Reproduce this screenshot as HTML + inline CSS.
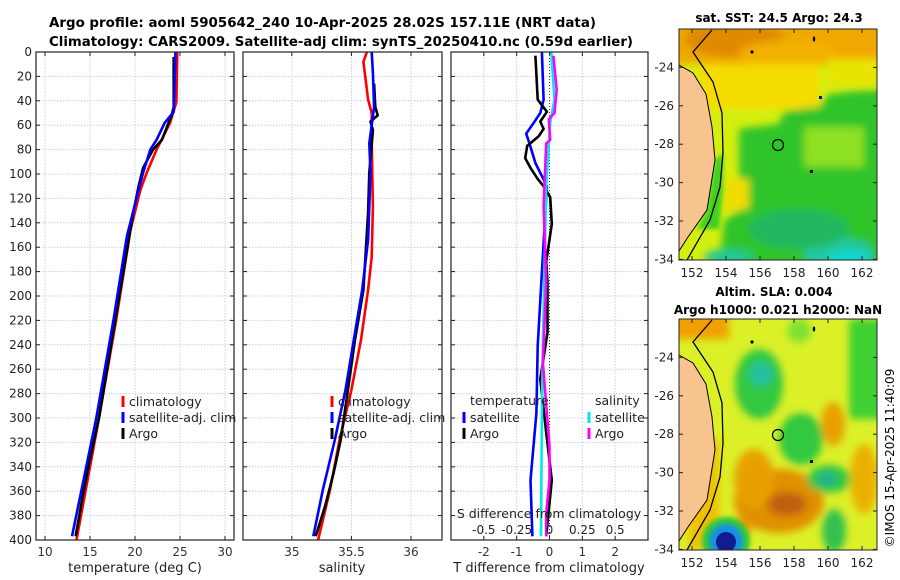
<!DOCTYPE html>
<html><head><meta charset="utf-8">
<style>
html,body{margin:0;padding:0;background:#fff;}
svg{display:block;font-family:"DejaVu Sans","Liberation Sans",sans-serif;}
</style></head>
<body>
<svg id="fig" width="900" height="580" viewBox="0 0 900 580" xmlns="http://www.w3.org/2000/svg">
<defs>
<clipPath id="c1"><rect x="36" y="52" width="198" height="488"/></clipPath>
<clipPath id="c2"><rect x="243" y="52" width="199" height="488"/></clipPath>
<clipPath id="c3"><rect x="451" y="52" width="197" height="488"/></clipPath>
<clipPath id="cm"><rect x="0" y="0" width="198" height="231"/></clipPath>
<filter id="bl" filterUnits="userSpaceOnUse" x="-20" y="-20" width="240" height="270"><feGaussianBlur stdDeviation="4"/></filter>
<filter id="bl2" filterUnits="userSpaceOnUse" x="-20" y="-20" width="240" height="270"><feGaussianBlur stdDeviation="2"/></filter>
</defs>
<text x="49" y="27" font-size="13" font-weight="bold" textLength="547" lengthAdjust="spacingAndGlyphs">Argo profile: aoml 5905642_240 10-Apr-2025 28.02S 157.11E (NRT data)</text>
<text x="49" y="46" font-size="13" font-weight="bold" textLength="584" lengthAdjust="spacingAndGlyphs">Climatology: CARS2009. Satellite-adj clim: synTS_20250410.nc (0.59d earlier)</text>
<g id="panels"></g>

<!-- top map -->
<text x="779" y="22" font-size="12" font-weight="bold" text-anchor="middle">sat. SST: 24.5 Argo: 24.3</text>
<g transform="translate(679,29)">
 <g clip-path="url(#cm)">
  <rect width="198" height="231" fill="#d4ee10"/>
  <g filter="url(#bl)">
   <rect x="-10" y="-10" width="220" height="45" fill="#f0a800"/>
   <ellipse cx="55" cy="10" rx="50" ry="18" fill="#e08a00"/>
   <ellipse cx="110" cy="25" rx="50" ry="14" fill="#f2b000"/>
   <rect x="20" y="35" width="120" height="45" fill="#f5dc00"/>
   <rect x="150" y="30" width="60" height="25" fill="#e8e400"/>
   <polygon points="60,100 100,95 105,82 140,78 150,65 175,62 210,60 210,240 40,240 45,192 66,178 60,150" fill="#2ec42a"/>
   <rect x="125" y="98" width="60" height="40" fill="#8ee020"/>
   <rect x="45" y="150" width="25" height="30" fill="#f0dc00"/>
   <ellipse cx="160" cy="225" rx="35" ry="16" fill="#20c8a0"/>
   <ellipse cx="170" cy="230" rx="22" ry="8" fill="#10d8d0"/>
   <ellipse cx="50" cy="228" rx="25" ry="8" fill="#20c890"/>
   <ellipse cx="120" cy="200" rx="50" ry="20" fill="#22b860"/>
  </g>
  <polygon points="36,131 28,181 18,200 40,200 44,160 44,124" fill="#40d020" filter="url(#bl2)"/>
  <polygon points="-5,36 0,36 14,44 27,65 33,98 36,131 28,181 9,208 0,222 -5,222" fill="#f7c490"/>
  <polyline points="0,36 14,44 27,65 33,98 36,131 28,181 9,208 0,222" fill="none" stroke="#000" stroke-width="1"/>
  <polyline points="33,1 14,23 34,53 43,84 44,124 41,158 31,191 8,231" fill="none" stroke="#000" stroke-width="1.3"/>
  <circle cx="99" cy="116" r="5.5" fill="none" stroke="#000" stroke-width="1.2"/>
  <circle cx="73" cy="23" r="1.6" fill="#000"/><ellipse cx="135" cy="10" rx="1.2" ry="2.5" fill="#000"/>
  <rect x="131" y="141" width="3" height="3" fill="#000"/><rect x="140" y="67" width="3" height="3" fill="#0010a0"/>
 </g>
 <rect width="198" height="231" fill="none" stroke="#222" stroke-width="1"/>
</g>

<!-- bottom map -->
<text x="774" y="296" font-size="12" font-weight="bold" text-anchor="middle">Altim. SLA: 0.004</text>
<text x="778" y="314" font-size="12" font-weight="bold" text-anchor="middle">Argo h1000: 0.021 h2000: NaN</text>
<g transform="translate(679,319)">
 <g clip-path="url(#cm)">
  <rect width="198" height="231" fill="#dcf028"/>
  <g filter="url(#bl)">
   <rect x="-10" y="-10" width="60" height="30" fill="#f0a000"/>
   <rect x="170" y="0" width="40" height="100" fill="#40d030"/>
   <ellipse cx="120" cy="12" rx="12" ry="12" fill="#80e030"/>
   <ellipse cx="80" cy="65" rx="24" ry="35" fill="#30c840"/>
   <ellipse cx="82" cy="55" rx="12" ry="12" fill="#20c0a0"/>
   <ellipse cx="122" cy="120" rx="22" ry="26" fill="#30c840"/>
   <ellipse cx="154" cy="105" rx="12" ry="22" fill="#e8a000"/>
   <ellipse cx="100" cy="182" rx="45" ry="32" fill="#e09000"/>
   <ellipse cx="75" cy="160" rx="20" ry="30" fill="#e8a000"/>
   <ellipse cx="108" cy="185" rx="20" ry="12" fill="#c06010"/>
   <ellipse cx="150" cy="160" rx="22" ry="14" fill="#30c840"/>
   <ellipse cx="148" cy="160" rx="10" ry="7" fill="#20b090"/>
   <ellipse cx="155" cy="212" rx="12" ry="22" fill="#30c050"/>
   <ellipse cx="185" cy="160" rx="14" ry="35" fill="#eab000"/>
   <ellipse cx="60" cy="210" rx="12" ry="10" fill="#e8a000"/>
   <rect x="10" y="120" width="30" height="110" fill="#f0c000"/>
  </g>
  <circle cx="47" cy="222" r="24" fill="#30c840" filter="url(#bl2)"/>
  <circle cx="47" cy="222" r="17" fill="#1890e0" filter="url(#bl2)"/>
  <circle cx="47" cy="223" r="10" fill="#101c90"/>
  <polygon points="-5,36 0,36 14,44 27,65 33,98 36,131 28,181 9,208 0,222 -5,222" fill="#f7c490"/>
  <polyline points="0,36 14,44 27,65 33,98 36,131 28,181 9,208 0,222" fill="none" stroke="#000" stroke-width="1"/>
  <polyline points="33,1 14,23 34,53 43,84 44,124 41,158 31,191 8,231" fill="none" stroke="#000" stroke-width="1.3"/>
  <circle cx="99" cy="116" r="5.5" fill="none" stroke="#000" stroke-width="1.2"/>
  <circle cx="73" cy="23" r="1.6" fill="#000"/><ellipse cx="135" cy="10" rx="1.2" ry="2.5" fill="#000"/>
  <rect x="131" y="141" width="3" height="3" fill="#000"/>
 </g>
 <rect width="198" height="231" fill="none" stroke="#222" stroke-width="1"/>
</g>
<text transform="translate(894,458) rotate(-90)" font-size="12" text-anchor="middle">©IMOS 15-Apr-2025 11:40:09</text>
<g id="mapticks"></g>
</svg>
<script>
// Depth levels (dbar) and profiles
const tClimP = [0, 41, 58, 80, 99, 113, 146, 220, 300, 400];
const tClimV = [24.7, 24.6, 23.9, 22.4, 21.3, 20.6, 19.5, 17.9, 16.0, 13.5];
const tSatP = [0, 49, 58, 72, 80, 99, 113, 151, 220, 300, 397];
const tSatV = [24.5, 24.3, 23.3, 22.4, 21.7, 20.9, 20.4, 19.1, 17.6, 15.7, 13.0];
const tArgoP = [4, 45, 51, 72, 80, 95, 110, 132, 220, 300, 337, 364, 397];
const tArgoV = [24.3, 24.3, 24.1, 23.0, 22.0, 20.9, 20.4, 19.8, 17.8, 16.0, 14.9, 14.2, 13.4];
const sClimP = [0, 8, 39, 50, 72, 127, 168, 195, 236, 277, 318, 359, 400];
const sClimV = [35.63, 35.60, 35.64, 35.67, 35.67, 35.68, 35.67, 35.64, 35.58, 35.50, 35.40, 35.32, 35.22];
const sSatP = [0, 17, 45, 75, 99, 154, 195, 236, 277, 318, 359, 397];
const sSatV = [35.67, 35.68, 35.69, 35.65, 35.66, 35.64, 35.59, 35.52, 35.45, 35.36, 35.26, 35.18];
const sArgoP = [26, 45, 52, 57, 64, 99, 132, 195, 236, 277, 318, 345, 372, 397];
const sArgoV = [35.69, 35.70, 35.72, 35.66, 35.68, 35.65, 35.64, 35.60, 35.53, 35.47, 35.41, 35.35, 35.28, 35.20];
// Differences from climatology
const dTSatP = [0, 39, 50, 58, 67, 75, 91, 110, 189, 241, 296, 351, 397];
const dTSatV = [-0.23, -0.18, -0.28, -0.48, -0.71, -0.61, -0.43, -0.08, -0.25, -0.36, -0.40, -0.58, -0.52];
const dTArgoP = [3, 39, 49, 57, 63, 69, 77, 87, 95, 104, 110, 119, 141, 172, 189, 230, 268, 312, 351, 397];
const dTArgoV = [-0.43, -0.36, -0.08, -0.28, -0.18, -0.33, -0.68, -0.74, -0.58, -0.36, -0.18, 0.02, 0.07, -0.10, -0.06, -0.06, -0.28, -0.10, 0.07, -0.10];
const dSSatP = [0, 39, 58, 110, 189, 241, 296, 397];
const dSSatV = [0.013, 0.038, 0.005, -0.025, -0.04, -0.05, -0.058, -0.065];
const dSArgoP = [3, 31, 50, 55, 72, 75, 126, 189, 255, 323, 351, 378, 397];
const dSArgoV = [0.03, 0.055, 0.038, -0.005, 0.005, -0.025, -0.045, -0.025, -0.05, 0, 0, -0.025, -0.025];
const depthTicks = [0,20,40,60,80,100,120,140,160,180,200,220,240,260,280,300,320,340,360,380,400];
const tTicks = [10,15,20,25,30];
const sTicks = [35,35.5,36];
const sTickLabels = ["35","35.5","36"];
const dTTicks = [-2,-1,0,1,2];
const dSTicks = [-0.5,-0.25,0,0.25,0.5];
const dSTickLabels = ["-0.5","-0.25","0","0.25","0.5"];

const NS = "http://www.w3.org/2000/svg";
const root = document.getElementById('panels');
function mk(tag, attrs, parent, txt){
  const e = document.createElementNS(NS, tag);
  for (const k in attrs) e.setAttribute(k, attrs[k]);
  if (txt !== undefined) e.textContent = txt;
  (parent||root).appendChild(e);
  return e;
}
const Y0 = 52, Y1 = 540;
function yP(p){ return Y0 + p*(Y1-Y0)/400; }

function panel(name, x0, x1, xmin, xmax, ticks, tickLabels, showDepth){
  const xs = v => x0 + (v - xmin)*(x1-x0)/(xmax-xmin);
  const g = mk('g', {});
  
  
  mk('rect', {x:x0, y:Y0, width:x1-x0, height:Y1-Y0, fill:'#fff'}, g);
  depthTicks.forEach(p => {
    const gl = mk('line', {x1:x0, x2:x1, y1:yP(p), y2:yP(p), stroke:'#c4cdee', 'stroke-width':1, 'stroke-dasharray':'1.5,1.5'}, g);
    
    
    mk('line', {x1:x0, x2:x0+4, y1:yP(p), y2:yP(p), stroke:'#222'}, g);
    mk('line', {x1:x1-4, x2:x1, y1:yP(p), y2:yP(p), stroke:'#222'}, g);
    if (showDepth) {
      const t = mk('text', {x:x0-4, y:yP(p)+4, 'font-size':12, 'text-anchor':'end', fill:'#222'}, g, String(p));
      
      
    }
  });
  ticks.forEach((v,i) => {
    const gl = mk('line', {x1:xs(v), x2:xs(v), y1:Y0, y2:Y1, stroke:'#c4cdee', 'stroke-width':1, 'stroke-dasharray':'1.5,1.5'}, g);
    
    
    mk('line', {x1:xs(v), x2:xs(v), y1:Y1, y2:Y1-4, stroke:'#222'}, g);
    mk('line', {x1:xs(v), x2:xs(v), y1:Y0, y2:Y0+4, stroke:'#222'}, g);
    const t = mk('text', {x:xs(v), y:556, 'font-size':12, 'text-anchor':'middle', fill:'#333'}, g, tickLabels[i]);
    
    
  });
  return {g, xs};
}
function line(g, xs, P, V, color, name, scale, clip){
  const pts = P.map((p,i) => xs(V[i]*(scale||1)).toFixed(1)+','+yP(p).toFixed(1)).join(' ');
  const l = mk('polyline', {points:pts, fill:'none', stroke:color, 'stroke-width':2.6, 'stroke-linejoin':'round', 'clip-path':clip}, g);
  
  
}
function frame(g, x0, x1){ mk('rect', {x:x0, y:Y0, width:x1-x0, height:Y1-Y0, fill:'none', stroke:'#222', 'stroke-width':1.2}, g); }
function legend(g, x, y, color, label){
  const b = mk('rect', {x:x-1.5, y:y-9, width:3, height:11, fill:color}, g);
  
  
  const t = mk('text', {x:x+6, y:y+1, 'font-size':12.5, fill:'#222'}, g, label);
  
  
}

// Panel 1: temperature
let p1 = panel('temperature-panel', 36, 234, 9, 31, tTicks, tTicks.map(String), true);
line(p1.g, p1.xs, tClimP, tClimV, '#f00', 'temp-climatology-line', 1, 'url(#c1)');
line(p1.g, p1.xs, tArgoP, tArgoV, '#000', 'temp-argo-line', 1, 'url(#c1)');
line(p1.g, p1.xs, tSatP, tSatV, '#00f', 'temp-satellite-line', 1, 'url(#c1)');
frame(p1.g, 36, 234);
legend(p1.g, 123, 405, '#f00', 'climatology');
legend(p1.g, 123, 421, '#00f', 'satellite-adj. clim');
legend(p1.g, 123, 437, '#000', 'Argo');
let a1 = mk('text', {x:135, y:572, 'font-size':13, 'text-anchor':'middle', fill:'#222'}, p1.g, 'temperature (deg C)');



// Panel 2: salinity
let p2 = panel('salinity-panel', 243, 442, 34.59, 36.26, sTicks, sTickLabels, false);
line(p2.g, p2.xs, sClimP, sClimV, '#f00', 'sal-climatology-line', 1, 'url(#c2)');
line(p2.g, p2.xs, sArgoP, sArgoV, '#000', 'sal-argo-line', 1, 'url(#c2)');
line(p2.g, p2.xs, sSatP, sSatV, '#00f', 'sal-satellite-line', 1, 'url(#c2)');
frame(p2.g, 243, 442);
legend(p2.g, 332, 405, '#f00', 'climatology');
legend(p2.g, 332, 421, '#00f', 'satellite-adj. clim');
legend(p2.g, 332, 437, '#000', 'Argo');
let a2 = mk('text', {x:342, y:572, 'font-size':13, 'text-anchor':'middle', fill:'#222'}, p2.g, 'salinity');



// Panel 3: differences
let p3 = panel('difference-panel', 451, 648, -3, 3, dTTicks, dTTicks.map(String), false);
let z = mk('line', {x1:p3.xs(0), x2:p3.xs(0), y1:Y0, y2:Y1, stroke:'#444', 'stroke-width':1, 'stroke-dasharray':'1,2'}, p3.g);


line(p3.g, p3.xs, dTSatP, dTSatV, '#00f', 'dT-satellite-line', 1, 'url(#c3)');
line(p3.g, p3.xs, dTArgoP, dTArgoV, '#000', 'dT-argo-line', 1, 'url(#c3)');
line(p3.g, p3.xs, dSSatP, dSSatV, '#00e8e8', 'dS-satellite-line', 4, 'url(#c3)');
line(p3.g, p3.xs, dSArgoP, dSArgoV, '#f0f', 'dS-argo-line', 4, 'url(#c3)');
frame(p3.g, 451, 648);
let lt = mk('text', {x:470, y:405, 'font-size':12.5, fill:'#222'}, p3.g, 'temperature');


let ls = mk('text', {x:595, y:405, 'font-size':12.5, fill:'#222'}, p3.g, 'salinity');


legend(p3.g, 464, 421, '#00f', 'satellite');
legend(p3.g, 464, 437, '#000', 'Argo');
legend(p3.g, 589, 421, '#00e8e8', 'satellite');
legend(p3.g, 589, 437, '#f0f', 'Argo');
let sd = mk('text', {x:549, y:518, 'font-size':12.5, 'text-anchor':'middle', fill:'#222'}, p3.g, 'S difference from climatology');


dSTicks.forEach((v,i) => {
  const t = mk('text', {x:p3.xs(v*4), y:534, 'font-size':12, 'text-anchor':'middle', fill:'#222'}, p3.g, dSTickLabels[i]);
  
  
});
let a3 = mk('text', {x:549, y:572, 'font-size':13, 'text-anchor':'middle', fill:'#222'}, p3.g, 'T difference from climatology');



// Map ticks
const lonTicks = [152,154,156,158,160,162];
const latTicks = [-24,-26,-28,-30,-32,-34];
const mt = document.getElementById('mapticks');
[[29,273],[319,563]].forEach(([top,labY]) => {
  const lonX = l => 692 + (l-152)*17;
  const latY = la => top + (-22 - la)*19.2;
  lonTicks.forEach(l => {
    mk('line', {x1:lonX(l), x2:lonX(l), y1:top+231, y2:top+227, stroke:'#222'}, mt);
    mk('line', {x1:lonX(l), x2:lonX(l), y1:top, y2:top+4, stroke:'#222'}, mt);
    const t = mk('text', {x:lonX(l), y:labY+4, 'font-size':12, 'text-anchor':'middle', fill:'#222'}, mt, String(l));
    
    
  });
  latTicks.forEach(la => {
    mk('line', {x1:679, x2:683, y1:latY(la), y2:latY(la), stroke:'#222'}, mt);
    mk('line', {x1:873, x2:877, y1:latY(la), y2:latY(la), stroke:'#222'}, mt);
    const t = mk('text', {x:674, y:latY(la)+4, 'font-size':12, 'text-anchor':'end', fill:'#222'}, mt, String(la));
    
    
  });
});
</script>
</body></html>
